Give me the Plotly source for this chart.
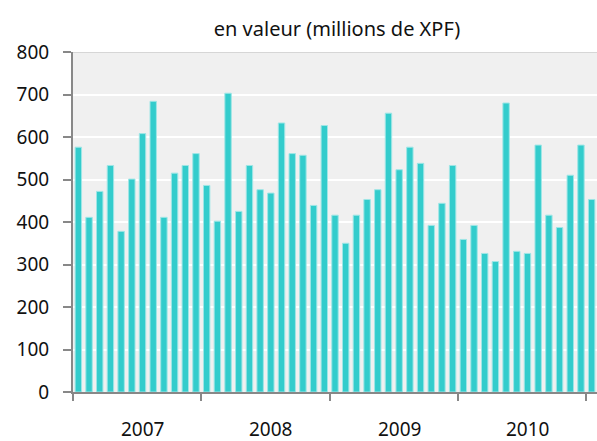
import plotly.graph_objects as go

months = list(range(49))
values = [576, 411, 472, 533, 378, 501, 608, 684, 411, 515, 533, 561,
          486, 402, 703, 425, 533, 476, 468, 633, 561, 557, 439, 627,
          416, 350, 416, 453, 476, 656, 523, 576, 538, 392, 444, 533,
          359, 392, 326, 307, 680, 331, 326, 581, 416, 387, 510, 581,
          453]
year_labels = ["2007", "2008", "2009", "2010"]
year_pos = [6, 18, 30, 42]
year_bounds = [-0.5, 11.5, 23.5, 35.5, 47.5]
y_ticks = [0, 100, 200, 300, 400, 500, 600, 700, 800]

FONT = "Noto Sans, sans-serif"

fig = go.Figure(go.Bar(
    x=months, y=values,
    marker=dict(color="#33CCCC", line=dict(color="#9fe6e6", width=1)),
    width=0.6,
))

fig.update_layout(
    width=597, height=441,
    margin=dict(l=73, r=0, t=52, b=49),
    paper_bgcolor="white", plot_bgcolor="#f0f0f0",
    showlegend=False,
    font=dict(family=FONT, size=19, color="#111"),
    title=dict(text="en valeur (millions de XPF)", x=0.5645, xanchor="center",
               y=0.934, yanchor="middle", font=dict(size=20, family=FONT)),
)
fig.update_xaxes(
    range=[-0.5, 48.5], tickvals=year_bounds, ticktext=[""] * 5,
    ticks="outside", ticklen=7, tickwidth=2, tickcolor="#888",
    showline=True, linecolor="#888", linewidth=2, showgrid=False, zeroline=False,
)
fig.update_yaxes(
    range=[0, 800], tickvals=y_ticks,
    ticks="outside", ticklen=8, tickwidth=2, tickcolor="#888",
    ticklabelstandoff=10,
    showline=True, linecolor="#888", linewidth=2,
    showgrid=True, gridcolor="white", gridwidth=2, zeroline=False,
    tickfont=dict(size=19),
)
for lbl, pos in zip(year_labels, year_pos):
    fig.add_annotation(x=pos, y=-0.11, xref="x", yref="paper", text=lbl,
                       showarrow=False, font=dict(size=19, family=FONT),
                       yanchor="middle", height=20, borderpad=0)
fig.add_shape(type="line", xref="paper", yref="y", x0=0, x1=1, y0=800, y1=800,
              line=dict(color="#d6d6d6", width=2))

fig.write_html(
    "out.html",
    config={"displayModeBar": False},
    post_script="document.body.style.margin='0';document.body.style.overflow='hidden';",
)
